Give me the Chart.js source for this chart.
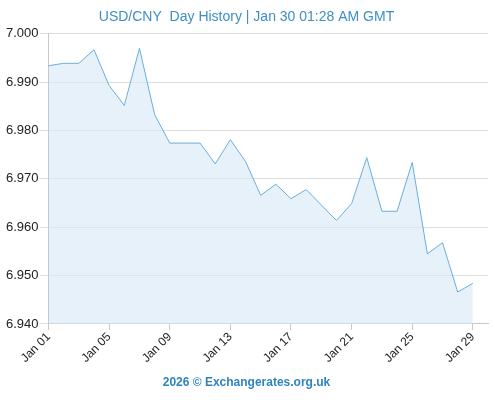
<!DOCTYPE html>
<html>
<head>
<meta charset="utf-8">
<script src="https://cdn.jsdelivr.net/npm/chart.js@4"></script>
<style>
  html, body { margin: 0; padding: 0; background: #fff; }
  #wrap { width: 495px; height: 400px; }
</style>
</head>
<body>
<div id="wrap"><canvas id="myChart" width="495" height="400"></canvas></div>
<script>
// daily USD/CNY close, Jan 2026
const dates = [
    'Jan 01', 'Jan 02', 'Jan 03', 'Jan 04', 'Jan 05', 'Jan 06', 'Jan 07', 'Jan 08',
    'Jan 09', 'Jan 10', 'Jan 11', 'Jan 12', 'Jan 13', 'Jan 14', 'Jan 15', 'Jan 16',
    'Jan 17', 'Jan 18', 'Jan 19', 'Jan 20', 'Jan 21', 'Jan 22', 'Jan 23', 'Jan 24',
    'Jan 25', 'Jan 26', 'Jan 27', 'Jan 28', 'Jan 29'
];
const rates = [
    6.9934, 6.9939, 6.9939, 6.9967, 6.9893, 6.9852, 6.9970, 6.9833,
    6.9774, 6.9774, 6.9774, 6.9731, 6.9781, 6.9736, 6.9666, 6.9689,
    6.9659, 6.9678, 6.9646, 6.9614, 6.9649, 6.9744, 6.9633, 6.9633,
    6.9734, 6.9545, 6.9568, 6.9466, 6.9484
];
const yTicks = [6.940, 6.950, 6.960, 6.970, 6.980, 6.990, 7.000];
const labelEvery = 4;

const titleText = 'USD/CNY  Day History | Jan 30 01:28 AM GMT';
const footerText = '2026 \u00A9 Exchangerates.org.uk';

// one empty slot after the last day, the axis runs a bit past Jan 29
const labels = dates.concat(['']);

const ctx = document.getElementById('myChart').getContext('2d');
const myChart = new Chart(ctx, {
    type: 'line',
    data: {
        labels: labels,
        datasets: [{
            data: rates,
            borderColor: '#6aaedb',
            borderWidth: 1,
            backgroundColor: 'rgba(214, 232, 246, 0.6)',
            fill: 'start',
            pointRadius: 0,
            tension: 0
        }]
    },
    options: {
        responsive: false,
        animation: false,
        layout: { padding: { left: 5, right: 7, top: 0, bottom: 4 } },
        plugins: {
            legend: { display: false },
            tooltip: { enabled: false },
            title: {
                display: true,
                text: titleText,
                color: '#3d8fc6',
                font: { family: 'Liberation Sans', size: 14, weight: 'normal' },
                padding: { top: 9, bottom: 8 }
            },
            subtitle: {
                display: true,
                position: 'bottom',
                text: footerText,
                color: '#2e84bf',
                font: { family: 'Liberation Sans', size: 12, weight: 'bold' },
                padding: { top: 10, bottom: 6 }
            }
        },
        scales: {
            x: {
                offset: false,
                grid: {
                    drawOnChartArea: false,
                    drawTicks: true,
                    tickLength: 6,
                    color: '#c8c8c8'
                },
                border: { color: '#c8c8c8' },
                ticks: {
                    autoSkip: false,
                    maxRotation: 45,
                    minRotation: 45,
                    color: '#222',
                    font: { family: 'Liberation Sans', size: 12 },
                    padding: 0,
                    callback: function(value, index) {
                        if (index % labelEvery !== 0 || index >= dates.length) return null;
                        return this.getLabelForValue(value);
                    }
                }
            },
            y: {
                min: yTicks[0],
                max: yTicks[yTicks.length - 1],
                afterBuildTicks: (scale) => {
                    scale.ticks = yTicks.map(v => ({ value: v }));
                },
                grid: {
                    color: '#dedede',
                    tickLength: 9
                },
                border: { color: '#c8c8c8' },
                ticks: {
                    color: '#222',
                    font: { family: 'Liberation Sans', size: 13 },
                    padding: 1,
                    callback: (v) => Number(v).toFixed(3)
                }
            }
        }
    }
});
</script>
</body>
</html>
